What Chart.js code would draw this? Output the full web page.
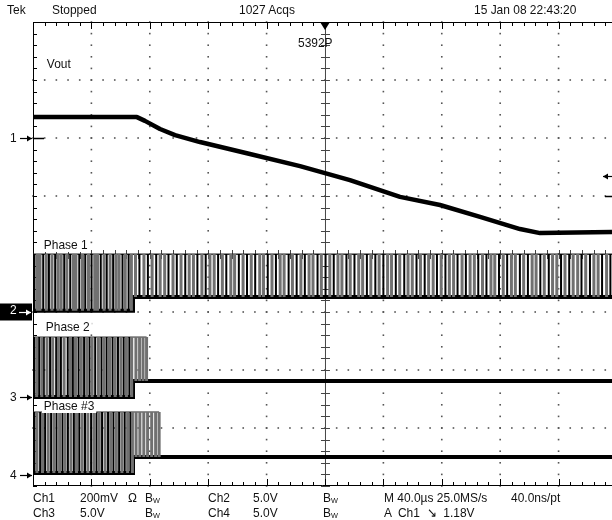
<!DOCTYPE html>
<html>
<head>
<meta charset="utf-8">
<script src="https://cdn.jsdelivr.net/npm/chart.js@4.4.0/dist/chart.umd.min.js"></script>
<style>
  body { margin: 0; background: #fff; }
  #wrap { position: relative; width: 612px; height: 520px; overflow: hidden; }
  #scope { position: absolute; left: 0; top: 0; }
  .t {
    position: absolute;
    font-family: "Liberation Sans", Arial, sans-serif;
    font-size: 13px;
    line-height: 14px;
    color: #111;
    white-space: pre;
    transform: scaleX(0.92);
    transform-origin: left center;
  }
  .lbl { background: #fff; padding: 0 2px; }
  .bw sub { font-size: 8px; vertical-align: -1px; }
</style>
</head>
<body>
<div id="wrap">
  <canvas id="scope" width="612" height="520"></canvas>

  <!-- HEADER -->
  <div class="t" style="left:7px;top:3px">Tek</div>
  <div class="t" style="left:52px;top:3px">Stopped</div>
  <div class="t" style="left:239px;top:3px">1027 Acqs</div>
  <div class="t" style="left:474px;top:3px">15 Jan 08 22:43:20</div>
  <div class="t" style="left:298px;top:36px">5392P</div>

  <!-- TRACE LABELS -->
  <div class="t lbl" style="left:45px;top:57px">Vout</div>
  <div class="t lbl" style="left:42px;top:238px">Phase 1</div>
  <div class="t lbl" style="left:44px;top:320px">Phase 2</div>
  <div class="t lbl" style="left:42px;top:399px">Phase #3</div>

  <!-- CHANNEL MARKERS -->
  <div class="t" style="left:10px;top:131px">1</div>
  <div class="t" style="left:10px;top:303px;color:#fff">2</div>
  <div class="t" style="left:10px;top:390px">3</div>
  <div class="t" style="left:10px;top:468px">4</div>

  <!-- FOOTER -->
  <div class="t" style="left:33px;top:491px">Ch1</div>
  <div class="t" style="left:80px;top:491px">200mV</div>
  <div class="t" style="left:128px;top:491px">Ω</div>
  <div class="t bw" style="left:145px;top:491px">B<sub>W</sub></div>
  <div class="t" style="left:208px;top:491px">Ch2</div>
  <div class="t" style="left:253px;top:491px">5.0V</div>
  <div class="t bw" style="left:323px;top:491px">B<sub>W</sub></div>
  <div class="t" style="left:384px;top:491px">M 40.0µs 25.0MS/s</div>
  <div class="t" style="left:511px;top:491px">40.0ns/pt</div>

  <div class="t" style="left:33px;top:506px">Ch3</div>
  <div class="t" style="left:80px;top:506px">5.0V</div>
  <div class="t bw" style="left:145px;top:506px">B<sub>W</sub></div>
  <div class="t" style="left:208px;top:506px">Ch4</div>
  <div class="t" style="left:253px;top:506px">5.0V</div>
  <div class="t bw" style="left:323px;top:506px">B<sub>W</sub></div>
  <div class="t" style="left:384px;top:506px">A  Ch1  ↘  1.18V</div>
</div>

<script>
// SCOPE SETTINGS
const timePerDiv = 40;          // µs
const minorPerDiv = 5;
const timeStart = -200;         // left edge of screen, µs
const timeVisibleEnd = 196.6;   // right edge of the picture, µs
const switchTime = -131.5;      // phases drop out here, µs
const triggerLevelDiv = 1.35;   // ch1 trigger level arrow on the right

// VOUT (CH1, 200 mV/div) -- time µs / level mV
const voutTime = [-200, -128.8, -123.3, -113, -102.7, -85.6, -51.4, -17.1, 17.1, 51.4, 78.8, 106.2, 133.6, 147.3, 196.6];
const voutMv = [72, 72, 59, 31, 10, -14, -55, -97, -145, -203, -231, -272, -314, -328, -324];
const voutOffsetDiv = 2.0;
const voutMvPerDiv = 200;

// PHASES (CH2..CH4, 5 V/div)
const phaseVoltsPerDiv = 5;
const phaseOffsetDiv = [-1.0, -2.466, -3.81];
const phaseHighV = [5.0, 5.17, 5.43];
const phaseLowBeforeV = [0.1, 0.0, 0.17];
const phaseLowAfterV = [1.3, 1.38, 1.55];
const phaseHighEnd = [196.6, -122.2, -113.6];

const phase1Dark = [-199.0, -193.0, -189.1, -184.8, -178.6, -174.5, -168.3, -164.2, -159.9, -153.6, -149.5, -145.1, -138.7, -134.5, -127.1, -121.3, -115.6, -107.2, -101.5, -95.7, -87.4, -81.7, -73.2, -67.6, -59.0, -53.4, -47.8, -39.2, -33.6, -24.9, -19.4, -13.8, -5.1, 0.4, 6.0, 14.7, 20.2, 28.7, 34.5, 40.0, 48.5, 54.3, 62.7, 68.3, 76.7, 82.5, 90.8, 96.5, 105.0, 110.6, 119.2, 124.8, 133.5, 139.0, 147.5, 153.3, 161.7, 167.3, 175.7, 181.5, 189.8, 195.5];
const phase1Gray = [-197.1, -195.2, -190.9, -187.0, -182.9, -180.7, -176.8, -172.4, -170.6, -166.1, -162.0, -157.7, -155.8, -151.3, -147.2, -143.2, -141.0, -136.8, -132.6, -129.8, -124.0, -118.4, -112.9, -109.8, -104.1, -98.6, -93.0, -90.1, -84.3, -78.8, -75.9, -70.3, -64.5, -61.9, -56.1, -50.5, -44.7, -42.1, -36.3, -30.7, -28.0, -22.3, -16.5, -10.9, -8.2, -2.5, 3.3, 8.9, 11.6, 17.3, 23.1, 25.8, 31.4, 37.1, 42.9, 45.6, 51.2, 56.9, 59.8, 65.4, 71.0, 74.1, 79.6, 85.2, 88.1, 93.9, 99.4, 102.3, 107.9, 113.7, 116.3, 122.1, 127.7, 130.4, 136.1, 141.9, 144.6, 150.2, 155.9, 158.8, 164.4, 170.0, 173.1, 178.6, 184.2, 187.1, 192.9];

const phase2Dark = [-199.2, -195.8, -192.6, -188.3, -184.1, -180.9, -176.2, -172.7, -168.8, -165.0, -161.3, -157.4, -153.1, -149.6, -145.5, -141.8, -137.9, -134.0];
const phase2Gray = [-197.5, -194.0, -190.4, -186.5, -182.6, -178.7, -174.3, -170.9, -166.9, -163.2, -159.5, -155.2, -151.4, -147.6, -143.7, -139.8, -136.0, -132.4, -129.5, -127.0, -124.6, -122.2];

const phase3Dark = [-199.0, -195.1, -191.7, -187.6, -183.9, -179.8, -176.1, -172.0, -168.3, -164.4, -160.2, -156.5, -152.7, -148.6, -144.9, -141.0, -137.2, -133.3];
const phase3Gray = [-197.3, -193.5, -189.6, -185.7, -181.8, -178.0, -174.0, -170.2, -166.3, -162.4, -158.3, -154.6, -150.6, -146.8, -142.9, -139.1, -135.2, -131.9, -129.4, -126.8, -124.1, -121.5, -118.7, -116.0, -113.6];

const phaseDark = [phase1Dark, phase2Dark, phase3Dark];
const phaseGray = [phase1Gray, phase2Gray, phase3Gray];

// HELPERS
function phaseDiv(i, volts) {
  return phaseOffsetDiv[i] + volts / phaseVoltsPerDiv;
}

function pulseSegments(i, times) {
  const pts = [];
  times.forEach((t) => {
    const low = t < switchTime ? phaseLowBeforeV[i] : phaseLowAfterV[i];
    pts.push({ x: t, y: phaseDiv(i, low) });
    pts.push({ x: t, y: phaseDiv(i, phaseHighV[i]) });
    pts.push({ x: t, y: null });
  });
  return pts;
}

function baseline(i) {
  return [
    { x: timeStart, y: phaseDiv(i, phaseLowBeforeV[i]) },
    { x: switchTime, y: phaseDiv(i, phaseLowBeforeV[i]) },
    { x: switchTime, y: phaseDiv(i, phaseLowAfterV[i]) },
    { x: timeVisibleEnd, y: phaseDiv(i, phaseLowAfterV[i]) },
  ];
}

const datasets = [];
for (let i = 0; i < 3; i++) {
  datasets.push({ data: pulseSegments(i, phaseGray[i]), borderColor: "#707070", borderWidth: 3 });
  datasets.push({ data: pulseSegments(i, phaseDark[i]), borderColor: "#000", borderWidth: 2 });
  datasets.push({
    data: [
      { x: timeStart, y: phaseDiv(i, phaseHighV[i]) },
      { x: phaseHighEnd[i], y: phaseDiv(i, phaseHighV[i]) },
    ],
    borderColor: "#222",
    borderWidth: 1,
  });
  datasets.push({ data: baseline(i), borderColor: "#000", borderWidth: 4 });
}
datasets.push({
  data: voutTime.map((t, k) => ({ x: t, y: voutOffsetDiv + voutMv[k] / voutMvPerDiv })),
  borderColor: "#000",
  borderWidth: 4.5,
  borderJoinStyle: "round",
});

// arrow pointing right (dir 1) or left (dir -1) with the tip at (tx, ty)
function drawArrow(ctx, tx, ty, dir, color) {
  ctx.strokeStyle = color;
  ctx.fillStyle = color;
  ctx.lineWidth = 1.2;
  ctx.beginPath();
  ctx.moveTo(tx - dir * 12, ty);
  ctx.lineTo(tx, ty);
  ctx.stroke();
  ctx.beginPath();
  ctx.moveTo(tx, ty);
  ctx.lineTo(tx - dir * 5, ty - 3);
  ctx.lineTo(tx - dir * 5, ty + 3);
  ctx.closePath();
  ctx.fill();
}

// GRATICULE
const graticule = {
  id: "graticule",
  beforeDatasetsDraw(chart) {
    const { ctx, chartArea: a, scales: { x, y } } = chart;
    const minorT = timePerDiv / minorPerDiv;
    ctx.save();

    // dotted division lines
    ctx.fillStyle = "#555";
    for (let d = 1; d <= 10; d++) {
      if (d === 5) continue;
      const px = x.getPixelForValue(timeStart + d * timePerDiv);
      for (let m = -4 * minorPerDiv; m <= 4 * minorPerDiv; m++) {
        ctx.fillRect(px - 0.8, y.getPixelForValue(m / minorPerDiv) - 0.8, 1.6, 1.6);
      }
    }
    for (let d = -3; d <= 3; d++) {
      if (d === 0) continue;
      const py = y.getPixelForValue(d);
      for (let m = 0; m <= 10 * minorPerDiv; m++) {
        ctx.fillRect(x.getPixelForValue(timeStart + m * minorT) - 0.8, py - 0.8, 1.6, 1.6);
      }
    }

    // center cross with ticks
    const cx = x.getPixelForValue(0);
    const cy = y.getPixelForValue(0);
    ctx.strokeStyle = "#444";
    ctx.lineWidth = 1;
    ctx.beginPath();
    ctx.moveTo(cx + 0.5, a.top);
    ctx.lineTo(cx + 0.5, a.bottom);
    ctx.moveTo(a.left, cy + 0.5);
    ctx.lineTo(a.right, cy + 0.5);
    for (let m = -4 * minorPerDiv; m <= 4 * minorPerDiv; m++) {
      const py = Math.round(y.getPixelForValue(m / minorPerDiv)) + 0.5;
      ctx.moveTo(cx - 4, py);
      ctx.lineTo(cx + 5, py);
    }
    for (let m = 0; m <= 10 * minorPerDiv; m++) {
      const px = Math.round(x.getPixelForValue(timeStart + m * minorT)) + 0.5;
      ctx.moveTo(px, cy - 4);
      ctx.lineTo(px, cy + 5);
    }
    ctx.stroke();

    // border with ticks
    ctx.strokeStyle = "#000";
    ctx.beginPath();
    ctx.moveTo(a.right, a.top + 0.5);
    ctx.lineTo(a.left + 0.5, a.top + 0.5);
    ctx.lineTo(a.left + 0.5, a.bottom - 0.5);
    ctx.lineTo(a.right, a.bottom - 0.5);
    for (let m = 0; m <= 10 * minorPerDiv; m++) {
      const px = Math.round(x.getPixelForValue(timeStart + m * minorT)) + 0.5;
      const len = m % minorPerDiv === 0 ? 7 : 4;
      ctx.moveTo(px, a.top);
      ctx.lineTo(px, a.top + len);
      ctx.moveTo(px, a.bottom);
      ctx.lineTo(px, a.bottom - len);
    }
    for (let m = -4 * minorPerDiv; m <= 4 * minorPerDiv; m++) {
      const py = Math.round(y.getPixelForValue(m / minorPerDiv)) + 0.5;
      ctx.moveTo(a.left, py);
      ctx.lineTo(a.left + 4, py);
    }
    ctx.stroke();
    ctx.restore();
  },
  afterDatasetsDraw(chart) {
    const { ctx, chartArea: a, scales: { x, y } } = chart;
    ctx.save();
    // trigger position marker
    const cx = x.getPixelForValue(0);
    ctx.fillStyle = "#000";
    ctx.beginPath();
    ctx.moveTo(cx - 5, a.top);
    ctx.lineTo(cx + 5, a.top);
    ctx.lineTo(cx, a.top + 8);
    ctx.closePath();
    ctx.fill();

    // ch1 ground dash
    const gy = Math.round(y.getPixelForValue(voutOffsetDiv)) + 0.5;
    ctx.strokeStyle = "#000";
    ctx.lineWidth = 1.5;
    ctx.beginPath();
    ctx.moveTo(a.left, gy);
    ctx.lineTo(a.left + 11, gy);
    ctx.moveTo(a.right - 7, 196.5);
    ctx.lineTo(a.right, 196.5);
    ctx.stroke();

    // channel markers on the left, ch2 selected
    const offsets = [voutOffsetDiv].concat(phaseOffsetDiv);
    offsets.forEach((off, i) => {
      const py = Math.round(y.getPixelForValue(off)) + 0.5;
      if (i === 1) {
        ctx.fillStyle = "#000";
        ctx.fillRect(0, py - 9, a.left - 1, 17);
        drawArrow(ctx, a.left - 2, py, 1, "#fff");
      } else {
        drawArrow(ctx, a.left - 1, py, 1, "#000");
      }
    });

    // ch1 trigger level
    drawArrow(ctx, a.right - 9, Math.round(y.getPixelForValue(triggerLevelDiv)) + 0.5, -1, "#000");
    ctx.restore();
  },
};

new Chart(document.getElementById("scope"), {
  type: "line",
  data: { datasets: datasets },
  options: {
    responsive: false,
    animation: false,
    devicePixelRatio: 1,
    spanGaps: false,
    layout: { padding: { left: 33, top: 22, right: 0, bottom: 34 } },
    elements: { point: { radius: 0 }, line: { tension: 0, fill: false } },
    scales: {
      x: { type: "linear", display: false, min: timeStart, max: timeVisibleEnd },
      y: { type: "linear", display: false, min: -4, max: 4 },
    },
    plugins: { legend: { display: false }, tooltip: { enabled: false } },
  },
  plugins: [graticule],
});
</script>
</body>
</html>
